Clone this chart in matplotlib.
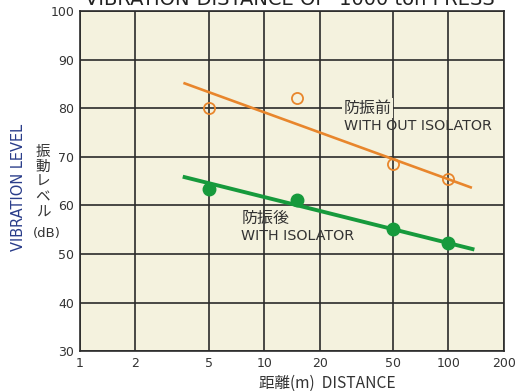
import numpy as np
import matplotlib
matplotlib.use("Agg")
import matplotlib.pyplot as plt

# data
dist_pts = [5, 15, 50, 100]
before_pts = [80.0, 82.1, 68.5, 65.4]   # 防振前 (open circles)
after_pts = [63.3, 61.1, 55.1, 52.2]    # 防振後 (filled circles)

# straight trend lines (end points)
before_line_x = [3.7, 132]
before_line_y = [85.1, 63.7]
after_line_x = [3.7, 135]
after_line_y = [65.8, 51.0]

xticks = [1, 2, 5, 10, 20, 50, 100, 200]
xtick_labels = ['1', '2', '5', '10', '20', '50', '100', '200']
yticks = [30, 40, 50, 60, 70, 80, 90, 100]

orange = '#e8862c'
green = '#169a3c'
grid_c = '#2b2b2b'
ink = '#333333'
jp = ['Noto Sans CJK JP', 'DejaVu Sans']

fig = plt.figure(figsize=(5.19, 3.91), dpi=100)
ax = fig.add_axes([0.154, 0.102, 0.817, 0.870])
ax.set_facecolor('#f4f2de')

ax.set_xscale('log')
ax.set_xlim(1, 200)
ax.set_ylim(30, 100)
ax.set_xticks(xticks)
ax.set_xticklabels(xtick_labels)
ax.set_yticks(yticks)
ax.minorticks_off()
ax.tick_params(length=0, labelsize=9, colors=ink, pad=4)
ax.grid(True, color=grid_c, linewidth=1.2)
for s in ax.spines.values():
    s.set_color(grid_c)
    s.set_linewidth(1.2)

# lines and points
ax.plot(before_line_x, before_line_y, color=orange, linewidth=1.9, zorder=3)
ax.plot(dist_pts, before_pts, 'o', markersize=8, markerfacecolor='none',
        markeredgecolor=orange, markeredgewidth=1.3, zorder=4)
ax.plot(after_line_x, after_line_y, color=green, linewidth=2.8, zorder=3)
ax.plot(dist_pts, after_pts, 'o', markersize=9, color=green, zorder=4)

# annotations
bg = dict(facecolor='#f4f2de', edgecolor='none', pad=1)
ax.text(27, 80, '防振前', family=jp, fontsize=11.5, color=ink, va='center',
        ha='left', bbox=bg, zorder=5)
ax.text(27, 76.4, 'WITH OUT ISOLATOR', fontsize=10.3, color=ink, va='center',
        ha='left', zorder=5)
ax.text(7.5, 57.3, '防振後', family=jp, fontsize=11.5, color=ink, va='center',
        ha='left', zorder=5)
ax.text(7.5, 53.6, 'WITH ISOLATOR', fontsize=10.3, color=ink, va='center',
        ha='left', zorder=5)

# axis labels
fig.text(327 / 519, 1 - 383 / 391, '距離(m)  DISTANCE', family=jp, fontsize=11.2,
         color=ink, ha='center', va='center')
fig.text(19 / 519, 1 - 187 / 391, 'VIBRATION LEVEL', fontsize=10.5, color='#2a3d8a',
         rotation=90, ha='center', va='center')
fig.text(43 / 519, 1 - 182 / 391, '振\n動\nレ\nベ\nル', family=jp, fontsize=10.5,
         color=ink, ha='center', va='center', linespacing=1.1)
fig.text(47 / 519, 1 - 233 / 391, '(dB)', fontsize=9.5, color=ink,
         ha='center', va='center')

# title, cut off by the top edge as in the scan
fig.text(290 / 519, 1 - 5 / 391, 'VIBRATION-DISTANCE OF  1000 ton PRESS',
         fontsize=14, color='#222222', ha='center', va='baseline')

fig.savefig('out.png', dpi=100)
